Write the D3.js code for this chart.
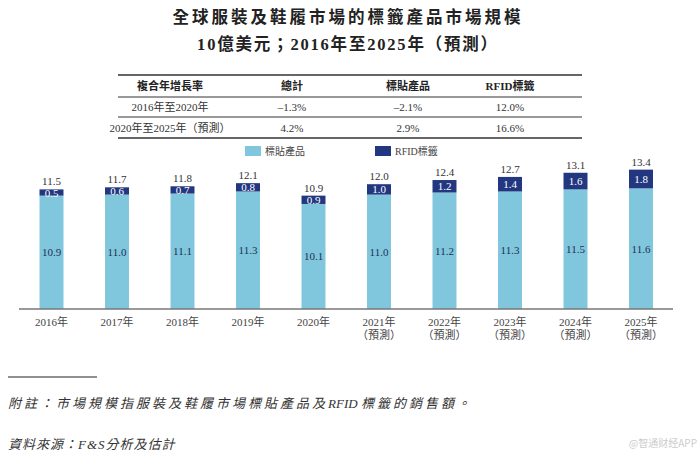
<!DOCTYPE html>
<html><head><meta charset="utf-8">
<script src="https://cdn.jsdelivr.net/npm/d3@7/dist/d3.min.js"></script>
<style>body{margin:0;background:#fff;} svg{display:block;}</style>
</head><body>
<script>
const years = ["2016年","2017年","2018年","2019年","2020年","2021年","2022年","2023年","2024年","2025年"];
const forecast = [false,false,false,false,false,true,true,true,true,true];
const labelProducts = [10.9,11.0,11.1,11.3,10.1,11.0,11.2,11.3,11.5,11.6];
const rfidTags = [0.5,0.6,0.7,0.8,0.9,1.0,1.2,1.4,1.6,1.8];
const totals = [11.5,11.7,11.8,12.1,10.9,12.0,12.4,12.7,13.1,13.4];
const seriesNames = ["標貼產品","RFID標籤"];
const tableHeader = ["複合年增長率","總計","標貼產品","RFID標籤"];
const tableRows = [["2016年至2020年","–1.3%","–2.1%","12.0%"],["2020年至2025年（預測）","4.2%","2.9%","16.6%"]];

const W=700,H=462;
const serif = "'Liberation Serif','Noto Sans CJK TC',serif";
const cLight="#80c7dd", cDark="#22377f";
const svg=d3.select("body").append("svg").attr("width",W).attr("height",H);

// titles
svg.append("text").attr("x",348).attr("y",23).attr("text-anchor","middle")
  .style("font-family",serif).style("font-size","16.5px").style("font-weight","bold").style("letter-spacing","3px").attr("fill","#222")
  .text("全球服裝及鞋履市場的標籤產品市場規模");
svg.append("text").attr("x",348).attr("y",50).attr("text-anchor","middle")
  .style("font-family",serif).style("font-size","16.5px").style("font-weight","bold").style("letter-spacing","1.8px").attr("fill","#222")
  .text("10億美元；2016年至2025年（預測）");

// table
const tx0=118, tx1=582;
const colX=[170,292,408,510];
[[75,1.6],[97,1],[117,1],[138,1.6]].forEach(([y,w])=>{
  svg.append("line").attr("x1",tx0).attr("x2",tx1).attr("y1",y).attr("y2",y).attr("stroke","#333").attr("stroke-width",w);
});
tableHeader.forEach((t,i)=>{
  svg.append("text").attr("x",colX[i]).attr("y",90).attr("text-anchor","middle")
   .style("font-family",serif).style("font-size","11px").style("font-weight","bold").attr("fill","#222").text(t);
});
tableRows.forEach((r,ri)=>{
  r.forEach((t,i)=>{
    svg.append("text").attr("x",colX[i]).attr("y",111+ri*21).attr("text-anchor","middle")
     .style("font-family",serif).style("font-size","11px").attr("fill","#333").text(t);
  });
});

// legend
const legend=[{x:245,name:seriesNames[0],c:cLight},{x:375,name:seriesNames[1],c:cDark}];
legend.forEach(l=>{
  svg.append("rect").attr("x",l.x).attr("y",146).attr("width",16).attr("height",10).attr("fill",l.c);
  svg.append("text").attr("x",l.x+20).attr("y",155).style("font-family",serif).style("font-size","10px").attr("fill","#444").text(l.name);
});

// scales
const x=d3.scaleBand().domain(years).range([18.75,673.75]).paddingInner(0.634).paddingOuter(0.317);
const y=d3.scaleLinear().domain([0,14]).range([309,163.4]);

const g=svg.append("g");
years.forEach((yr,i)=>{
  const bx=x(yr), bw=x.bandwidth(), cx=bx+bw/2;
  g.append("rect").attr("x",bx).attr("width",bw).attr("y",y(labelProducts[i])).attr("height",y(0)-y(labelProducts[i])).attr("fill",cLight);
  g.append("rect").attr("x",bx).attr("width",bw).attr("y",y(totals[i])).attr("height",y(labelProducts[i])-y(totals[i])).attr("fill",cDark);
  g.append("text").attr("x",cx).attr("y",(y(0)+y(labelProducts[i]))/2+4).attr("text-anchor","middle")
    .style("font-family",serif).style("font-size","11px").attr("fill","#1e2f55").text(labelProducts[i].toFixed(1));
  g.append("text").attr("x",cx).attr("y",(y(labelProducts[i])+y(totals[i]))/2+4).attr("text-anchor","middle")
    .style("font-family",serif).style("font-size","11px").attr("fill","#fff").text(rfidTags[i].toFixed(1));
  g.append("text").attr("x",cx).attr("y",y(totals[i])-4).attr("text-anchor","middle")
    .style("font-family",serif).style("font-size","11px").attr("fill","#333").text(totals[i].toFixed(1));
});

// axis
const ax=svg.append("g").attr("transform","translate(0,309)").call(d3.axisBottom(x).tickSize(0).tickPadding(9));
ax.select(".domain").attr("d","M19,0H673").attr("stroke","#777").attr("stroke-width",1.3);
ax.selectAll(".tick text").style("font-family",serif).style("font-size","11px").attr("fill","#444");
ax.selectAll(".tick").each(function(d,i){
  if(forecast[i]){
    d3.select(this).append("text").attr("y",22).attr("dy","0.71em").attr("text-anchor","middle")
      .style("font-family",serif).style("font-size","11px").attr("fill","#444").text("（預測）");
  }
});

// footnotes
svg.append("line").attr("x1",8).attr("x2",97).attr("y1",377).attr("y2",377).attr("stroke","#222").attr("stroke-width",1.2);
const note=svg.append("text").attr("x",8).attr("y",408).style("font-family",serif).style("font-size","13px").style("font-style","italic").attr("fill","#333");
note.append("tspan").style("letter-spacing","3px").text("附註：市場規模指服裝及鞋履市場標貼產品及");
note.append("tspan").style("letter-spacing","0px").text("RFID ");
note.append("tspan").style("letter-spacing","3px").text("標籤的銷售額。");
svg.append("text").attr("x",8).attr("y",449).style("font-family",serif).style("font-size","13px").style("font-style","italic").style("letter-spacing","1px").attr("fill","#333")
  .text("資料來源：F&S分析及估計");
svg.append("text").attr("x",697).attr("y",447).attr("text-anchor","end").style("font-family","'Noto Sans CJK SC',sans-serif").style("font-size","10px").attr("fill","#ccc")
  .text("@智通财经APP");
</script>
</body></html>
